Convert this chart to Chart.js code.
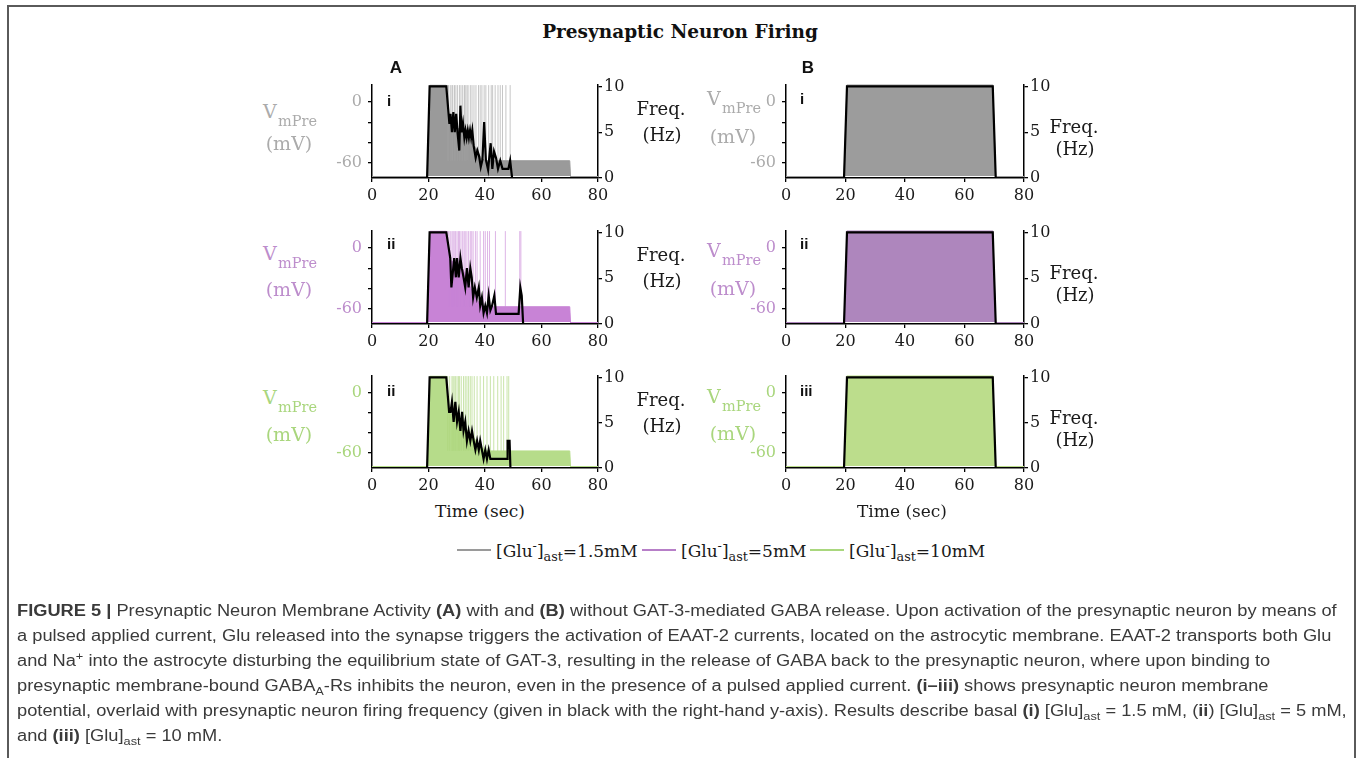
<!DOCTYPE html>
<html>
<head>
<meta charset="utf-8">
<script src="https://cdn.jsdelivr.net/npm/chart.js@4.4.1/dist/chart.umd.min.js"></script>
<style>
html, body { margin: 0; padding: 0; background: #fff; }
#page { position: relative; width: 1357px; height: 758px; overflow: hidden; background: #fff; }
#frame { position: absolute; left: 7px; top: 5px; width: 1349px; height: 800px; border: 2px solid #5a5a5a; box-sizing: border-box; }
canvas { position: absolute; }
.t { position: absolute; white-space: nowrap; line-height: 1; }
.c { transform: translate(-50%, -50%); }
.l { transform: translate(0, -50%); }
.serif { font-family: "DejaVu Serif", serif; }
.sans { font-family: "Liberation Sans", Arial, sans-serif; font-weight: bold; }
#caption { position: absolute; left: 17px; top: 598px; transform-origin: 0 0; font-family: "Liberation Sans", Arial, sans-serif; font-size: 16px; color: #3a3a3a; }
#caption div { position: absolute; left: 0; white-space: nowrap; line-height: 25px; }
#caption sub, #caption sup { font-size: 70%; line-height: 0; }
.leg sub, .leg sup { font-size: 75%; line-height: 0; }
</style>
</head>
<body>
<div id="page"><div id="frame"></div></div>
<script>
// axis ticks
const timeTicks = [0, 20, 40, 60, 80];
const voltTicks = [-60, -40, -20, 0];
const voltLabeled = [-60, 0];
const freqTicks = [0, 5, 10];

// membrane potential: dense firing envelope (sec, mV)
const envTimeAi = [0, 19.5, 20.5, 26.3, 27.4, 30, 33, 36, 38.5, 40, 70, 70.3, 80];
const envVoltAi = [-75, -75, 16.5, 16.5, -20, -25, -32, -42, -55, -58, -58, -75, -75];
const envTimeAii = [0, 19.5, 20.5, 26.3, 27.7, 32, 35, 38, 40, 70, 70.3, 80];
const envVoltAii = [-75, -75, 16.5, 16.5, -12, -20, -40, -55, -58, -58, -75, -75];
const envTimeAiii = [0, 19.5, 20.5, 26.3, 27.3, 30, 33, 36, 39, 40.5, 70, 70.3, 80];
const envVoltAiii = [-75, -75, 16.5, 16.5, -20, -25, -35, -45, -55, -58, -58, -75, -75];
const envTimeB = [0, 19.5, 20.5, 69.5, 70.5, 80];
const envVoltB = [-75, -75, 17, 17, -75, -75];
const voltTrough = -73;
const spikeBase = -58;
const spikePeak = 16.5;

// isolated spikes (sec)
const spikesAi = [26.8, 27.1, 27.7, 28.3, 28.6, 29.2, 29.7, 30.3, 31.0, 31.5, 32.1, 32.7, 33.0, 33.6, 34.0, 34.8, 35.4, 36.1, 36.8, 37.7, 38.3, 38.9, 39.7, 40.3, 41.3, 42.2, 42.7, 43.6, 44.6, 45.4, 46.2, 47.4, 48.9];
const spikesAii = [26.8, 27.2, 27.7, 28.3, 28.7, 29.1, 29.6, 30.1, 30.6, 31.0, 31.5, 32.1, 32.6, 33.0, 33.6, 34.2, 34.8, 35.3, 35.8, 36.6, 37.2, 38.3, 39.5, 40.1, 40.9, 41.6, 43.7, 47.2, 52.3, 52.7];
const spikesAiii = [26.8, 27.5, 28.3, 28.7, 29.1, 29.6, 30.1, 30.6, 31.0, 31.6, 32.4, 33.0, 33.6, 34.2, 34.8, 35.4, 36.2, 37.2, 38.3, 39.5, 40.7, 41.9, 43.1, 44.5, 45.7, 46.6, 47.8, 48.4];

// firing frequency [sec, Hz]
const freqAi = [[0,0],[19.5,0],[20.4,10],[26.3,10],[27.4,5.9],[27.8,7.0],[28.3,5.0],[28.8,7.2],[29.3,5.0],[29.8,7.0],[30.3,4.9],[30.9,3.0],[31.3,7.9],[31.7,5.0],[32.2,6.0],[32.7,4.4],[33.1,5.2],[33.5,4.4],[33.9,5.2],[34.3,4.4],[34.7,5.2],[35.1,4.4],[35.5,5.2],[36.0,3.5],[36.7,2.2],[37.3,3.0],[37.9,2.4],[38.5,1.2],[39.1,2.0],[39.7,6.1],[40.3,2.0],[41.1,0.9],[42.0,3.8],[42.6,1.0],[43.2,2.9],[43.9,2.2],[44.6,1.0],[45.4,1.9],[46.2,1.0],[48.3,1.0],[48.9,1.9],[49.6,0],[80,0]];
const freqAii = [[0,0],[19.5,0],[20.4,10],[26.3,10],[27.7,7.2],[28.1,4.0],[28.7,5.9],[29.1,7.2],[29.7,5.1],[30.1,7.2],[30.7,5.1],[31.3,7.2],[31.8,6.1],[32.4,5.1],[33.0,4.0],[33.6,6.1],[34.2,4.0],[34.8,6.1],[35.3,5.1],[35.8,2.9],[36.4,4.0],[37.1,2.9],[37.8,4.0],[38.3,2.0],[38.9,2.9],[39.5,1.2],[40.1,2.0],[40.7,1.2],[41.3,3.1],[41.9,1.5],[42.5,2.0],[43.3,3.1],[43.9,1.1],[51.9,1.1],[52.5,4.0],[53.0,3.1],[53.5,0],[80,0]];
const freqAiii = [[0,0],[19.5,0],[20.4,10],[26.3,10],[27.3,6.2],[27.8,6.2],[28.3,7.3],[28.9,5.1],[29.5,7.3],[30.1,5.1],[30.7,6.2],[31.3,4.1],[31.9,6.2],[32.4,4.1],[33.0,5.1],[33.6,3.0],[34.2,4.1],[34.8,3.0],[35.4,4.1],[36.0,3.0],[36.6,2.0],[37.2,3.0],[37.8,2.0],[38.3,3.0],[38.9,2.0],[39.5,1.0],[40.1,2.0],[40.7,1.0],[41.3,2.0],[41.9,1.0],[47.8,1.0],[48.0,3.0],[48.7,3.0],[49.0,0],[80,0]];
const freqB = [[0,0],[19.5,0],[20.5,10],[69.5,10],[70.5,0],[80,0]];

// legend
const legendNames = ['1.5mM', '5mM', '10mM'];

// layout
const page = document.getElementById('page');
const cols = { A: { left: 372, w: 226 }, B: { left: 786, w: 238 } };
const rowTop = [83, 229, 374];
const rowH = [95, 95, 94];
const padL = 70, padR = 45, padT = 14, padB = 32;
const rowColor = ['#ababab', '#bd8dcc', '#a9d67d'];

const panels = [
  { col: 'A', row: 0, env: [envTimeAi, envVoltAi], spikes: spikesAi, freq: freqAi, fill: '#9a9a9a', spike: 'rgba(160,160,160,0.6)', num: 'i', numXY: [387, 100], vY: 111, mvY: 143 },
  { col: 'A', row: 1, env: [envTimeAii, envVoltAii], spikes: spikesAii, freq: freqAii, fill: '#c883d6', spike: 'rgba(200,131,214,0.6)', num: 'ii', numXY: [387, 243], vY: 253, mvY: 289 },
  { col: 'A', row: 2, env: [envTimeAiii, envVoltAiii], spikes: spikesAiii, freq: freqAiii, fill: '#b6dc8a', spike: 'rgba(172,214,125,0.65)', num: 'ii', numXY: [387, 390], vY: 397, mvY: 434 },
  { col: 'B', row: 0, env: [envTimeB, envVoltB], spikes: [], freq: freqB, fill: '#9c9c9c', spike: '#9c9c9c', num: 'i', numXY: [800, 98], vY: 98, mvY: 136 },
  { col: 'B', row: 1, env: [envTimeB, envVoltB], spikes: [], freq: freqB, fill: '#ae86bd', spike: '#ae86bd', num: 'ii', numXY: [800, 243], vY: 250, mvY: 288 },
  { col: 'B', row: 2, env: [envTimeB, envVoltB], spikes: [], freq: freqB, fill: '#bcdd8c', spike: '#bcdd8c', num: 'iii', numXY: [800, 390], vY: 396, mvY: 433 }
];

function text(html, x, y, cls, style) {
  const d = document.createElement('div');
  d.className = 't ' + cls;
  d.innerHTML = html;
  d.style.left = x + 'px';
  d.style.top = y + 'px';
  if (style) d.style.cssText += style;
  page.appendChild(d);
  return d;
}

const tickFont = { family: 'DejaVu Serif', size: 16 };

function makeChart(p) {
  const geo = cols[p.col], top = rowTop[p.row], h = rowH[p.row];
  const W = padL + geo.w + padR, H = padT + h + padB;
  const cv = document.createElement('canvas');
  cv.width = W; cv.height = H;
  cv.style.left = (geo.left - padL) + 'px';
  cv.style.top = (top - padT) + 'px';
  cv.style.width = W + 'px';
  cv.style.height = H + 'px';
  page.appendChild(cv);

  const spikeData = [];
  p.spikes.forEach(t => {
    spikeData.push({ x: t, y: spikeBase }, { x: t, y: spikePeak }, { x: t, y: null });
  });
  const envData = p.env[0].map((t, i) => ({ x: t, y: p.env[1][i] }));
  const freqData = p.freq.map(d => ({ x: d[0], y: d[1] }));
  const axisGrid = { drawOnChartArea: false, color: '#000', tickLength: 4, lineWidth: 1.3 };
  const axisBorder = { display: true, color: '#000', width: 1.5 };

  new Chart(cv, {
    type: 'line',
    data: {
      datasets: [
        { data: freqData, yAxisID: 'yR', borderColor: '#000', borderWidth: 2.2, pointRadius: 0, fill: false, order: 1 },
        { data: spikeData, yAxisID: 'yL', borderColor: p.spike, borderWidth: 1, pointRadius: 0, fill: false, spanGaps: false, order: 2 },
        { data: envData, yAxisID: 'yL', borderColor: p.fill, backgroundColor: p.fill, borderWidth: 1, pointRadius: 0, fill: { value: voltTrough }, order: 3 }
      ]
    },
    options: {
      responsive: false,
      animation: false,
      devicePixelRatio: 1,
      layout: { padding: { top: padT, left: 0, right: 0, bottom: 0 } },
      plugins: { legend: { display: false }, tooltip: { enabled: false } },
      scales: {
        x: {
          type: 'linear', min: 0, max: 80,
          afterBuildTicks: s => { s.ticks = timeTicks.map(v => ({ value: v })); },
          afterFit: s => { s.height = padB; },
          grid: axisGrid, border: axisBorder,
          ticks: { font: tickFont, color: '#1a1a1a', padding: 4, maxRotation: 0 }
        },
        yL: {
          position: 'left', min: -75, max: 17,
          afterBuildTicks: s => { s.ticks = voltTicks.map(v => ({ value: v })); },
          afterFit: s => { s.width = padL; },
          grid: axisGrid, border: axisBorder,
          ticks: { font: tickFont, color: rowColor[p.row], padding: 6,
            callback: v => voltLabeled.includes(v) ? String(v) : '' }
        },
        yR: {
          position: 'right', min: 0, max: 10.2,
          afterBuildTicks: s => { s.ticks = freqTicks.map(v => ({ value: v })); },
          afterFit: s => { s.width = padR; },
          grid: axisGrid, border: axisBorder,
          ticks: { font: tickFont, color: '#1a1a1a', padding: 2 }
        }
      }
    }
  });

  // axis titles and panel numerals
  const col = rowColor[p.row];
  const vx = p.col === 'A' ? 263 : 707;
  text('V', vx, p.vY, 'serif l', 'font-size:19px;color:' + col);
  text('mPre', vx + 15, p.vY + 10, 'serif l', 'font-size:14.5px;color:' + col);
  text('(mV)', vx + 26, p.mvY, 'serif c', 'font-size:19px;color:' + col);
  const fx = p.col === 'A' ? 661 : 1074;
  const fy = p.col === 'A' ? [26, 52] : [44, 66];
  text('Freq.', fx, top + fy[0], 'serif c', 'font-size:18px;color:#1a1a1a');
  text('(Hz)', fx + 1, top + fy[1], 'serif c', 'font-size:18px;color:#1a1a1a');
  text(p.num, p.numXY[0], p.numXY[1], 'sans l', 'font-size:15px;color:#111');
}

panels.forEach(makeChart);

// title, panel letters, x titles
text('Presynaptic Neuron Firing', 680, 32, 'serif c', 'font-size:18.5px;font-weight:bold;color:#111');
text('A', 396, 67, 'sans c', 'font-size:17px;color:#111');
text('B', 808, 67, 'sans c', 'font-size:17px;color:#111');
text('Time (sec)', 480, 511, 'serif c', 'font-size:17px;color:#1a1a1a');
text('Time (sec)', 902, 511, 'serif c', 'font-size:17px;color:#1a1a1a');

// legend
const legendColors = ['#9a9a9a', '#b77fc8', '#a9d77d'];
const legendX = [457, 642, 810];
legendNames.forEach((name, i) => {
  const ln = document.createElement('div');
  ln.style.cssText = 'position:absolute;height:2px;width:34px;top:549px;left:' + legendX[i] + 'px;background:' + legendColors[i];
  page.appendChild(ln);
  text('[Glu<sup>-</sup>]<sub>ast</sub>=' + name, legendX[i] + 39, 551, 'serif l leg', 'font-size:17px;color:#1a1a1a');
});

// caption
const captionLines = [
  '<b>FIGURE 5 |</b> Presynaptic Neuron Membrane Activity <b>(A)</b> with and <b>(B)</b> without GAT-3-mediated GABA release. Upon activation of the presynaptic neuron by means of',
  'a pulsed applied current, Glu released into the synapse triggers the activation of EAAT-2 currents, located on the astrocytic membrane. EAAT-2 transports both Glu',
  'and Na<sup>+</sup> into the astrocyte disturbing the equilibrium state of GAT-3, resulting in the release of GABA back to the presynaptic neuron, where upon binding to',
  'presynaptic membrane-bound GABA<sub>A</sub>-Rs inhibits the neuron, even in the presence of a pulsed applied current. <b>(i–iii)</b> shows presynaptic neuron membrane',
  'potential, overlaid with presynaptic neuron firing frequency (given in black with the right-hand y-axis). Results describe basal <b>(i)</b> [Glu]<sub>ast</sub> = 1.5 mM, (<b>ii</b>) [Glu]<sub>ast</sub> = 5 mM,',
  'and <b>(iii)</b> [Glu]<sub>ast</sub> = 10 mM.'
];
const cap = document.createElement('div');
cap.id = 'caption';
captionLines.forEach((html, i) => {
  const d = document.createElement('div');
  d.style.top = (i * 25) + 'px';
  d.innerHTML = html;
  cap.appendChild(d);
});
page.appendChild(cap);
function fitCaption() {
  const w = cap.firstChild.offsetWidth;
  if (w > 0) cap.style.transform = 'scaleX(' + (1320 / w) + ')';
}
fitCaption();
if (document.fonts) document.fonts.ready.then(fitCaption);
</script>
</body>
</html>
